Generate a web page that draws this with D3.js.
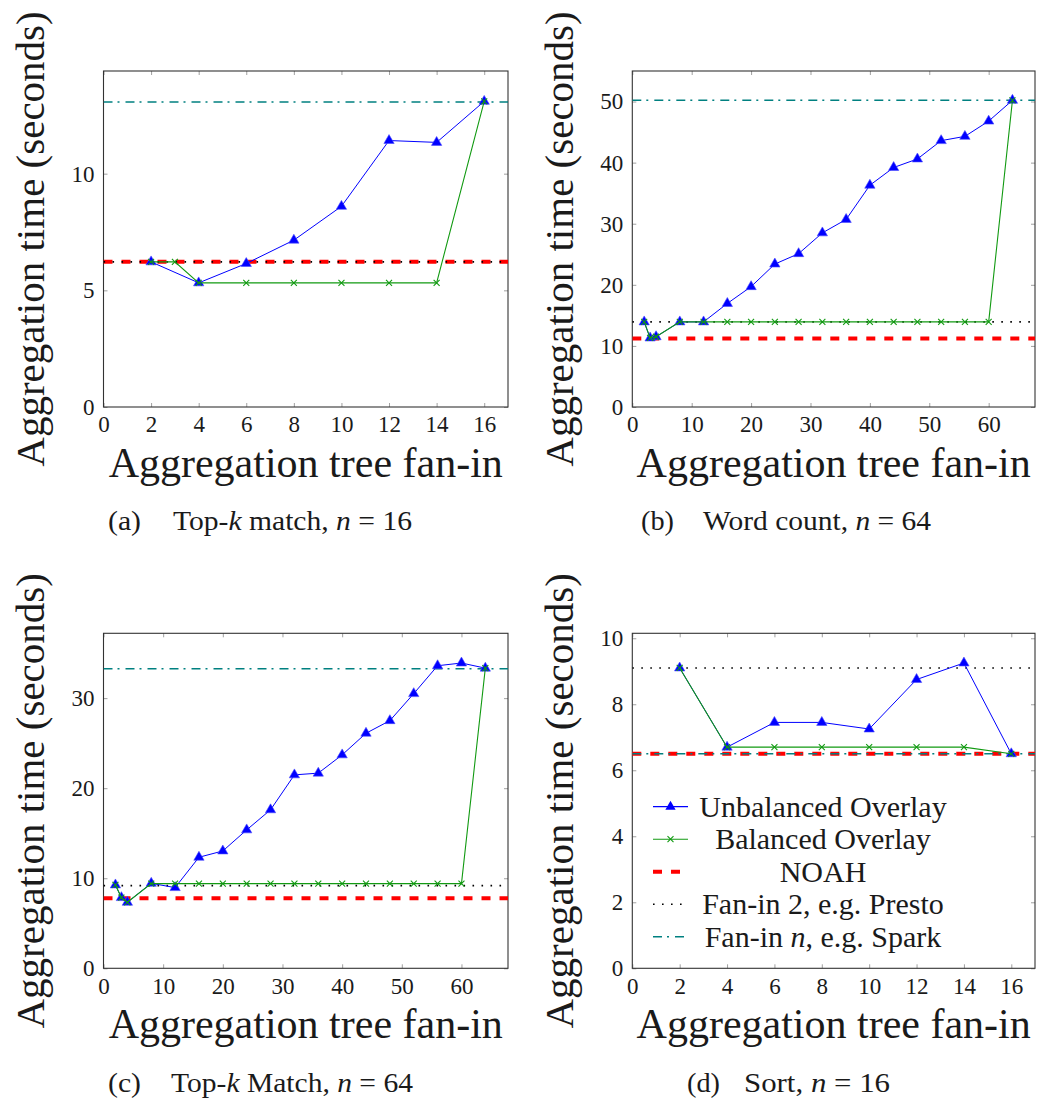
<!DOCTYPE html>
<html>
<head>
<meta charset="utf-8">
<script src="https://cdn.jsdelivr.net/npm/d3@7"></script>
<style>
  body { margin: 0; background: #fff; }
  text { font-family: "Liberation Serif", "Times New Roman", serif; fill: #1a1a1a; }
</style>
</head>
<body>
<script>
// fan-in values (x) per panel
var fanInA = [2, 4, 6, 8, 10, 12, 14, 16];
var fanInABal = [2, 3, 4, 6, 8, 10, 12, 14, 16];
var fanIn64 = [2, 3, 4, 8, 12, 16, 20, 24, 28, 32, 36, 40, 44, 48, 52, 56, 60, 64];
var fanInD = [2, 4, 6, 8, 10, 12, 14, 16];

// aggregation times (seconds)
var unbalA = [6.22, 5.32, 6.15, 7.15, 8.6, 11.42, 11.34, 13.1];
var balA   = [6.22, 6.22, 5.32, 5.32, 5.32, 5.32, 5.32, 5.32, 13.1];
var unbalB = [13.93, 11.3, 11.5, 13.93, 13.93, 16.95, 19.7, 23.4, 25.1, 28.5, 30.7, 36.3, 39.2, 40.6, 43.6, 44.3, 46.8, 50.2];
var balB   = [13.93, 11.3, 11.5, 13.93, 13.93, 13.93, 13.93, 13.93, 13.93, 13.93, 13.93, 13.93, 13.93, 13.93, 13.93, 13.93, 13.93, 50.2];
var unbalC = [9.26, 7.85, 7.33, 9.44, 8.96, 12.33, 13.03, 15.37, 17.6, 21.48, 21.67, 23.7, 26.1, 27.5, 30.5, 33.6, 33.9, 33.33];
var balC   = [9.26, 7.85, 7.33, 9.4, 9.4, 9.4, 9.4, 9.4, 9.4, 9.4, 9.4, 9.4, 9.4, 9.4, 9.4, 9.4, 9.4, 33.33];
var unbalD = [9.1, 6.7, 7.45, 7.45, 7.25, 8.75, 9.25, 6.5];
var balD   = [9.1, 6.7, 6.7, 6.7, 6.7, 6.7, 6.7, 6.5];

// horizontal reference lines, panels a..d
var noahTime   = [6.22, 11.2, 7.78, 6.5];
var fanIn2Time = [6.22, 13.93, 9.18, 9.1];
var fanInNTime = [13.07, 50.2, 33.26, 6.5];

// tick labels
var xTicks16 = [0, 2, 4, 6, 8, 10, 12, 14, 16];
var xTicks64 = [0, 10, 20, 30, 40, 50, 60];
var yTicksA = [0, 5, 10];
var yTicksB = [0, 10, 20, 30, 40, 50];
var yTicksC = [0, 10, 20, 30];
var yTicksD = [0, 2, 4, 6, 8, 10];

var captionTags = ["(a)", "(b)", "(c)", "(d)"];
var captionParts = [
  [["Top-", 0], ["k", 1], [" match, ", 0], ["n", 1], [" = 16", 0]],
  [["Word count, ", 0], ["n", 1], [" = 64", 0]],
  [["Top-", 0], ["k", 1], [" Match, ", 0], ["n", 1], [" = 64", 0]],
  [["Sort, ", 0], ["n", 1], [" = 16", 0]]
];
var legendNames = ["Unbalanced Overlay", "Balanced Overlay", "NOAH", "Fan-in 2, e.g. Presto", "Fan-in n, e.g. Spark"];

var C_BLUE = "#0000ff", C_GREEN = "#129a12", C_RED = "#ff0000", C_TEAL = "#008080";

var svg = d3.select("body").append("svg")
  .attr("width", 1039).attr("height", 1103);

var panels = [
  { left: 103.5, right: 508, top: 71, bottom: 407, xd: [0, 17], yd: [0, 14.4], xt: xTicks16, yt: yTicksA,
    ux: fanInA, uy: unbalA, bx: fanInABal, by: balA, tagX: 108, capX0: 173, capX1: 412, capY: 530 },
  { left: 632.3, right: 1035, top: 71, bottom: 407, xd: [0, 67.8], yd: [0, 55], xt: xTicks64, yt: yTicksB,
    ux: fanIn64, uy: unbalB, bx: fanIn64, by: balB, tagX: 641, capX0: 703, capX1: 931, capY: 530 },
  { left: 103.5, right: 508, top: 633.3, bottom: 968.3, xd: [0, 67.8], yd: [0, 37.2], xt: xTicks64, yt: yTicksC,
    ux: fanIn64, uy: unbalC, bx: fanIn64, by: balC, tagX: 108, capX0: 171, capX1: 413, capY: 1092 },
  { left: 632.3, right: 1035, top: 633.3, bottom: 968.3, xd: [0, 17], yd: [0, 10.15], xt: xTicks16, yt: yTicksD,
    ux: fanInD, uy: unbalD, bx: fanInD, by: balD, tagX: 687, capX0: 744, capX1: 890, capY: 1092 }
];

var tri = d3.symbol(d3.symbolTriangle).size(46);

function drawPanel(p, i) {
  var x = d3.scaleLinear().domain(p.xd).range([p.left, p.right]);
  var y = d3.scaleLinear().domain(p.yd).range([p.bottom, p.top]);
  var g = svg.append("g");

  g.append("clipPath").attr("id", "clip" + i)
    .append("rect").attr("x", p.left).attr("y", p.top)
    .attr("width", p.right - p.left).attr("height", p.bottom - p.top);

  // axes, ticks pointing inward on all four sides
  var ax = g.append("g").attr("transform", "translate(0," + p.bottom + ")")
    .call(d3.axisBottom(x).tickValues(p.xt).tickSizeInner(-4).tickSizeOuter(0).tickPadding(9));
  var ax2 = g.append("g").attr("transform", "translate(0," + p.top + ")")
    .call(d3.axisTop(x).tickValues(p.xt).tickSizeInner(-4).tickSizeOuter(0).tickFormat(""));
  var ay = g.append("g").attr("transform", "translate(" + p.left + ",0)")
    .call(d3.axisLeft(y).tickValues(p.yt).tickSizeInner(-4).tickSizeOuter(0).tickPadding(9));
  var ay2 = g.append("g").attr("transform", "translate(" + p.right + ",0)")
    .call(d3.axisRight(y).tickValues(p.yt).tickSizeInner(-4).tickSizeOuter(0).tickFormat(""));
  [ax, ax2, ay, ay2].forEach(function(a) {
    a.select(".domain").remove();
    a.selectAll(".tick line").attr("stroke", "#888").attr("stroke-width", 0.8);
    a.selectAll("text").attr("font-size", 23).attr("font-family", null).attr("fill", "#1a1a1a");
  });

  g.append("rect").attr("x", p.left).attr("y", p.top)
    .attr("width", p.right - p.left).attr("height", p.bottom - p.top)
    .attr("fill", "none").attr("stroke", "#333").attr("stroke-width", 1.1);

  var plot = g.append("g").attr("clip-path", "url(#clip" + i + ")");

  // reference lines
  plot.append("line").attr("x1", p.left).attr("x2", p.right)
    .attr("y1", y(noahTime[i])).attr("y2", y(noahTime[i]))
    .attr("stroke", C_RED).attr("stroke-width", 4).attr("stroke-dasharray", "9 9");
  plot.append("line").attr("x1", p.left).attr("x2", p.right)
    .attr("y1", y(fanIn2Time[i])).attr("y2", y(fanIn2Time[i]))
    .attr("stroke", "#000").attr("stroke-width", 1.6).attr("stroke-dasharray", "1.6 7.4");
  plot.append("line").attr("x1", p.left).attr("x2", p.right)
    .attr("y1", y(fanInNTime[i])).attr("y2", y(fanInNTime[i]))
    .attr("stroke", C_TEAL).attr("stroke-width", 1.6).attr("stroke-dasharray", "9 5 2 6");

  var line = d3.line().x(function(d) { return x(d[0]); }).y(function(d) { return y(d[1]); });
  var uPts = p.ux.map(function(v, k) { return [v, p.uy[k]]; });
  var bPts = p.bx.map(function(v, k) { return [v, p.by[k]]; });

  plot.append("path").datum(uPts).attr("d", line)
    .attr("fill", "none").attr("stroke", C_BLUE).attr("stroke-width", 1);
  plot.selectAll(".tri").data(uPts).enter().append("path")
    .attr("transform", function(d) { return "translate(" + x(d[0]) + "," + y(d[1]) + ")"; })
    .attr("d", tri).attr("fill", C_BLUE).attr("stroke", "#4a4aff").attr("stroke-width", 0.6);

  plot.append("path").datum(bPts).attr("d", line)
    .attr("fill", "none").attr("stroke", C_GREEN).attr("stroke-width", 1.1);
  plot.selectAll(".xm").data(bPts).enter().append("path")
    .attr("transform", function(d) { return "translate(" + x(d[0]) + "," + y(d[1]) + ")"; })
    .attr("d", "M-3,-3L3,3M-3,3L3,-3").attr("stroke", C_GREEN).attr("stroke-width", 1.1);

  // axis titles
  g.append("text")
    .attr("transform", "translate(" + (p.left - 59.5) + "," + ((p.top + p.bottom) / 2) + ") rotate(-90)")
    .attr("text-anchor", "middle").attr("font-size", 41)
    .text("Aggregation time (seconds)");
  g.append("text")
    .attr("x", (p.left + p.right) / 2).attr("y", p.bottom + 70)
    .attr("text-anchor", "middle").attr("font-size", 42)
    .text("Aggregation tree fan-in");

  // caption: tag + stretched main text (mimics the wider TeX font)
  g.append("text").attr("x", p.tagX).attr("y", p.capY)
    .attr("font-size", 27).attr("textLength", 33).attr("lengthAdjust", "spacingAndGlyphs")
    .text(captionTags[i]);
  var cap = g.append("text").attr("x", p.capX0).attr("y", p.capY)
    .attr("font-size", 27).attr("textLength", p.capX1 - p.capX0).attr("lengthAdjust", "spacingAndGlyphs");
  captionParts[i].forEach(function(part) {
    var t = cap.append("tspan").text(part[0]);
    if (part[1]) t.attr("font-style", "italic");
  });

  if (i === 3) drawLegend(g);
}

function drawLegend(g) {
  var lx1 = 653, lx2 = 688, ly0 = 806.7, step = 32.5, tx = 823;
  legendNames.forEach(function(name, k) {
    var yy = ly0 + k * step;
    var ln = g.append("line").attr("x1", lx1).attr("x2", lx2).attr("y1", yy).attr("y2", yy);
    if (k === 0) {
      ln.attr("stroke", C_BLUE).attr("stroke-width", 1.2);
      g.append("path").attr("transform", "translate(" + (lx1 + lx2) / 2 + "," + yy + ")")
        .attr("d", tri).attr("fill", C_BLUE);
    } else if (k === 1) {
      ln.attr("stroke", C_GREEN).attr("stroke-width", 1.1);
      g.append("path").attr("transform", "translate(" + (lx1 + lx2) / 2 + "," + yy + ")")
        .attr("d", "M-3,-3L3,3M-3,3L3,-3").attr("stroke", C_GREEN).attr("stroke-width", 1.1);
    } else if (k === 2) {
      ln.attr("x2", lx1 + 27).attr("stroke", C_RED).attr("stroke-width", 4).attr("stroke-dasharray", "9 9");
    } else if (k === 3) {
      ln.attr("stroke", "#000").attr("stroke-width", 1.6).attr("stroke-dasharray", "1.6 7.4");
    } else {
      ln.attr("stroke", C_TEAL).attr("stroke-width", 1.6).attr("stroke-dasharray", "9 5 2 6");
    }
    var t = g.append("text").attr("x", tx).attr("y", yy + 10)
      .attr("text-anchor", "middle").attr("font-size", 30);
    if (k === 4) {
      t.append("tspan").text("Fan-in ");
      t.append("tspan").attr("font-style", "italic").text("n");
      t.append("tspan").text(", e.g. Spark");
    } else {
      t.text(name);
    }
  });
}

panels.forEach(drawPanel);
</script>
</body>
</html>
